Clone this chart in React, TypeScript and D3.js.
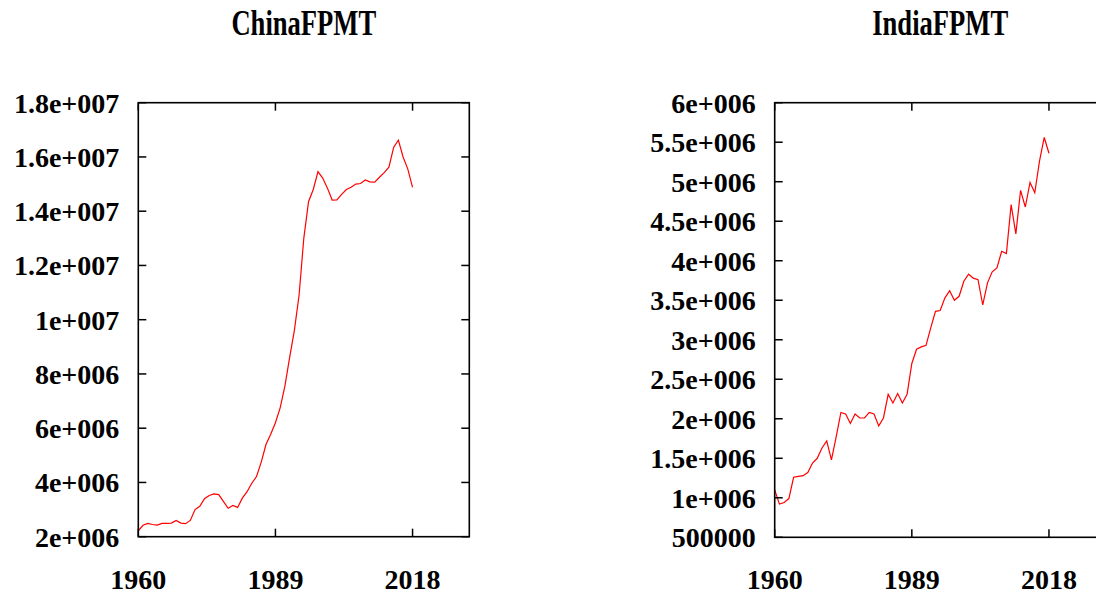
import React from "react";
import * as d3 from "d3";

// Annual fish production (metric tons), 1960–2018
const years: number[] = d3.range(1960, 2019);

const chinaFPMT: number[] = [
  2.22e6, 2.42e6, 2.49e6, 2.45e6, 2.43e6, 2.49e6, 2.49e6, 2.5e6, 2.6e6, 2.5e6,
  2.48e6, 2.6e6, 3.0e6, 3.12e6, 3.4e6, 3.52e6, 3.58e6, 3.55e6, 3.3e6, 3.05e6,
  3.15e6, 3.08e6, 3.42e6, 3.66e6, 3.97e6, 4.22e6, 4.75e6, 5.4e6, 5.78e6, 6.2e6,
  6.75e6, 7.55e6, 8.6e6, 9.6e6, 1.09e7, 1.3e7, 1.435e7, 1.48e7, 1.546e7, 1.522e7,
  1.485e7, 1.441e7, 1.442e7, 1.462e7, 1.48e7, 1.488e7, 1.5e7, 1.502e7, 1.515e7, 1.508e7,
  1.507e7, 1.525e7, 1.542e7, 1.562e7, 1.635e7, 1.662e7, 1.6e7, 1.555e7, 1.488e7,
];

const indiaFPMT: number[] = [
  1.1e6, 0.92e6, 0.94e6, 0.99e6, 1.26e6, 1.27e6, 1.28e6, 1.32e6, 1.44e6, 1.5e6,
  1.63e6, 1.72e6, 1.48e6, 1.77e6, 2.08e6, 2.06e6, 1.94e6, 2.06e6, 2.01e6, 2.01e6,
  2.08e6, 2.06e6, 1.91e6, 2.01e6, 2.31e6, 2.2e6, 2.32e6, 2.2e6, 2.31e6, 2.7e6,
  2.88e6, 2.91e6, 2.93e6, 3.15e6, 3.36e6, 3.37e6, 3.53e6, 3.62e6, 3.5e6, 3.55e6,
  3.74e6, 3.83e6, 3.78e6, 3.76e6, 3.44e6, 3.72e6, 3.86e6, 3.91e6, 4.12e6, 4.09e6,
  4.71e6, 4.34e6, 4.89e6, 4.68e6, 4.99e6, 4.86e6, 5.26e6, 5.56e6, 5.36e6,
];

const xTickYears: number[] = [1960, 1989, 2018];
const xTickLabels: string[] = ["1960", "1989", "2018"];

const chinaTicks: number[] = [2e6, 4e6, 6e6, 8e6, 1e7, 1.2e7, 1.4e7, 1.6e7, 1.8e7];
const chinaTickLabels: string[] = [
  "2e+006", "4e+006", "6e+006", "8e+006", "1e+007", "1.2e+007", "1.4e+007", "1.6e+007", "1.8e+007",
];

const indiaTicks: number[] = [5e5, 1e6, 1.5e6, 2e6, 2.5e6, 3e6, 3.5e6, 4e6, 4.5e6, 5e6, 5.5e6, 6e6];
const indiaTickLabels: string[] = [
  "500000", "1e+006", "1.5e+006", "2e+006", "2.5e+006", "3e+006", "3.5e+006",
  "4e+006", "4.5e+006", "5e+006", "5.5e+006", "6e+006",
];

const FONT = "'Liberation Serif', 'DejaVu Serif', serif";

type PanelProps = {
  title: string;
  values: number[];
  yDomain: [number, number];
  yTicks: number[];
  yLabels: string[];
  left: number;
  top: number;
  width: number;
  height: number;
};

function Panel({ title, values, yDomain, yTicks, yLabels, left, top, width, height }: PanelProps) {
  const x = d3.scaleLinear().domain([1960, 2030]).range([left, left + width]);
  const y = d3.scaleLinear().domain(yDomain).range([top + height, top]);
  const line = d3
    .line<number>()
    .x((_, i) => x(years[i]))
    .y((v) => y(v));
  const tickLen = 8;
  const right = left + width;
  const bottom = top + height;
  const cx = left + width / 2;

  return (
    <g>
      <text
        x={cx}
        y={35}
        textAnchor="middle"
        fontFamily={FONT}
        fontWeight="bold"
        fontSize={35}
        transform={`translate(${cx},0) scale(0.76,1) translate(${-cx},0)`}
      >
        {title}
      </text>
      <path d={line(values) ?? ""} fill="none" stroke="#ff0000" strokeWidth={1.2} />
      <rect x={left} y={top} width={width} height={height} fill="none" stroke="#000" strokeWidth={1.6} />
      {yTicks.map((t, i) => (
        <g key={"y" + i}>
          <line x1={left} x2={left + tickLen} y1={y(t)} y2={y(t)} stroke="#000" strokeWidth={1.5} />
          <line x1={right} x2={right - tickLen} y1={y(t)} y2={y(t)} stroke="#000" strokeWidth={1.5} />
          <text
            x={left - 19}
            y={y(t)}
            dy="0.35em"
            textAnchor="end"
            fontFamily={FONT}
            fontWeight="bold"
            fontSize={28}
          >
            {yLabels[i]}
          </text>
        </g>
      ))}
      {xTickYears.map((yr, i) => (
        <g key={"x" + i}>
          <line x1={x(yr)} x2={x(yr)} y1={bottom} y2={bottom - tickLen} stroke="#000" strokeWidth={1.5} />
          <line x1={x(yr)} x2={x(yr)} y1={top} y2={top + tickLen} stroke="#000" strokeWidth={1.5} />
          <text
            x={x(yr)}
            y={589}
            textAnchor="middle"
            fontFamily={FONT}
            fontWeight="bold"
            fontSize={28}
          >
            {xTickLabels[i]}
          </text>
        </g>
      ))}
    </g>
  );
}

export default function App() {
  return (
    <svg
      width={1096}
      height={606}
      style={{ position: "absolute", left: 0, top: 0, background: "#fff" }}
    >
      <rect width={1096} height={606} fill="#fff" />
      <Panel
        title="ChinaFPMT"
        values={chinaFPMT}
        yDomain={[2e6, 1.8e7]}
        yTicks={chinaTicks}
        yLabels={chinaTickLabels}
        left={138.3}
        top={102.7}
        width={331}
        height={434}
      />
      <Panel
        title="IndiaFPMT"
        values={indiaFPMT}
        yDomain={[5e5, 6e6]}
        yTicks={indiaTicks}
        yLabels={indiaTickLabels}
        left={774.7}
        top={102.7}
        width={331}
        height={434.6}
      />
    </svg>
  );
}
